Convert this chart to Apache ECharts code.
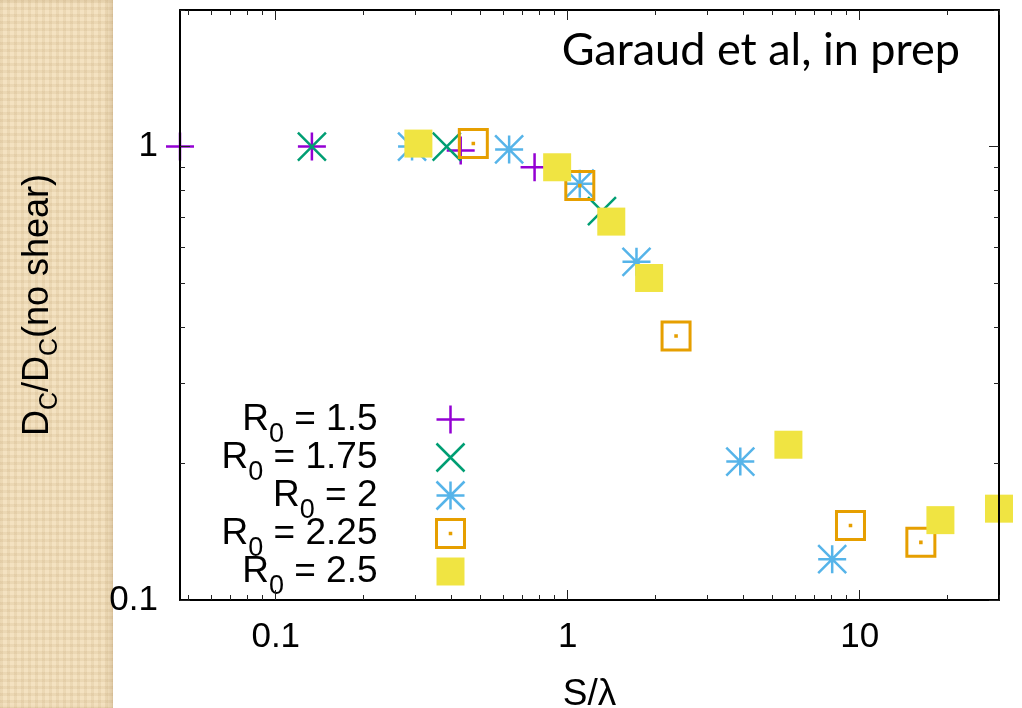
<!DOCTYPE html>
<html>
<head>
<meta charset="utf-8">
<script src="https://cdn.jsdelivr.net/npm/echarts@6/dist/echarts.min.js"></script>
<style>
html, body { margin: 0; padding: 0; background: #fff; }
#strip {
  position: absolute; left: 0; top: 0; width: 113px; height: 708px;
  background-color: #f4e2c1;
  background-image: linear-gradient(90deg, rgba(190,160,110,0.16) 50%, transparent 50%),
                    linear-gradient(rgba(190,160,110,0.16) 50%, transparent 50%);
  background-size: 7px 7px;
  box-shadow: inset -4px 0 4px rgba(170,140,90,0.25);
}
#main { position: absolute; left: 0; top: 0; width: 1022px; height: 708px; }
</style>
</head>
<body>
<div id="strip"></div>
<div id="main"></div>
<script>
var chart = echarts.init(document.getElementById('main'));

// data (x = S/lambda, y = Dc/Dc(no shear))
var r15X = [0.047, 0.133, 0.43, 0.77];
var r15Y = [1.0, 1.0, 0.98, 0.90];
var r175X = [0.133, 0.385, 1.31];
var r175Y = [1.0, 1.0, 0.72];
var r2X = [0.293, 0.63, 1.10, 1.72, 3.9, 8.05];
var r2Y = [1.0, 0.985, 0.828, 0.557, 0.202, 0.123];
var r225X = [0.475, 1.10, 2.35, 9.3, 16.2];
var r225Y = [1.015, 0.82, 0.382, 0.146, 0.134];
var r25X = [0.308, 0.92, 1.41, 1.90, 5.7, 18.9, 30];
var r25Y = [1.015, 0.90, 0.683, 0.513, 0.22, 0.15, 0.159];

var r0Values = ['1.5', '1.75', '2', '2.25', '2.5'];

// ticks
var xMajor = [0.1, 1, 10];
var xMinor = [0.05, 0.06, 0.07, 0.08, 0.09, 0.2, 0.3, 0.4, 0.5, 0.6, 0.7, 0.8, 0.9,
              2, 3, 4, 5, 6, 7, 8, 9, 20, 30];
var yMajor = [0.1, 1];
var yMinor = [0.2, 0.3, 0.4, 0.5, 0.6, 0.7, 0.8, 0.9, 2];
var xLabels = [0.1, 1, 10];
var yLabels = [0.1, 1];

var xMin = 0.047, xMax = 30, yMin = 0.1, yMax = 2;

var colors = ['#9400d3', '#009e73', '#56b4e9', '#e69f00', '#f0e442'];
var plusPath = 'path://M0,5L10,5M5,0L5,10';
var crossPath = 'path://M0,0L10,10M10,0L0,10';
var starPath = 'path://M0,5L10,5M5,0L5,10M0,0L10,10M10,0L0,10';
var boxPath = 'path://M0,0L10,0L10,10L0,10ZM4.9,4.9L5.1,4.9L5.1,5.1L4.9,5.1Z';

var font = "'Liberation Sans', Arial, sans-serif";

function pts(xs, ys) {
  return xs.map(function (x, i) { return [x, ys[i]]; });
}

function xAx(pos, ticks, len, main) {
  return {
    type: 'log', logBase: 10, position: pos, min: xMin, max: xMax, z: 5,
    axisLine: { show: main, onZero: false, lineStyle: { color: '#000', width: 2 } },
    axisTick: { show: true, inside: true, length: len, customValues: ticks,
                lineStyle: { color: '#222', width: 1 } },
    axisLabel: { show: main && pos === 'bottom', customValues: xLabels, margin: 20,
                 color: '#000', fontSize: 35, fontFamily: font },
    splitLine: { show: false }
  };
}

function yAx(pos, ticks, len, main) {
  return {
    type: 'log', logBase: 10, position: pos, min: yMin, max: yMax, z: 5,
    axisLine: { show: main, onZero: false, lineStyle: { color: '#000', width: 2 } },
    axisTick: { show: true, inside: true, length: len, customValues: ticks,
                lineStyle: { color: '#222', width: 1 } },
    axisLabel: { show: main && pos === 'left', customValues: yLabels, margin: 22,
                 color: '#000', fontSize: 35, fontFamily: font },
    splitLine: { show: false }
  };
}

var xAxes = [xAx('bottom', xMajor, 10, true), xAx('bottom', xMinor, 5, false),
             xAx('top', xMajor, 10, true), xAx('top', xMinor, 5, false)];
xAxes[0].name = 'S/\u03bb';
xAxes[0].nameLocation = 'middle';
xAxes[0].nameGap = 76;
xAxes[0].nameTextStyle = { color: '#000', fontSize: 37, fontFamily: font };

var yAxes = [yAx('left', yMajor, 10, true), yAx('left', yMinor, 5, false),
             yAx('right', yMajor, 10, true), yAx('right', yMinor, 5, false)];
yAxes[0].name = '{n|D}{s|C}{n|/D}{s|C}{n|(no shear)}';
yAxes[0].nameLocation = 'middle';
yAxes[0].nameRotate = 90;
yAxes[0].nameGap = 124;
yAxes[0].nameTextStyle = {
  color: '#000', fontFamily: font,
  rich: {
    n: { fontSize: 36, lineHeight: 36, verticalAlign: 'top', fontFamily: font, color: '#000' },
    s: { fontSize: 25, lineHeight: 25, verticalAlign: 'top', padding: [18, 0, 0, 0],
         fontFamily: font, color: '#000' }
  }
};

var symbols = [plusPath, crossPath, starPath, boxPath, 'rect'];
var xsList = [r15X, r175X, r2X, r225X, r25X];
var ysList = [r15Y, r175Y, r2Y, r225Y, r25Y];

var series = r0Values.map(function (v, i) {
  var filled = i === 4;
  return {
    name: 'R0 = ' + v,
    type: 'scatter',
    xAxisIndex: 0, yAxisIndex: 0,
    symbol: symbols[i],
    symbolSize: 28,
    clip: false,
    itemStyle: filled ? { color: colors[i], opacity: 1 } :
      { color: 'rgba(0,0,0,0)', borderColor: colors[i], borderWidth: i === 3 ? 3 : 2.5, opacity: 1 },
    emphasis: { disabled: true },
    data: pts(xsList[i], ysList[i])
  };
});

var option = {
  backgroundColor: 'transparent',
  animation: false,
  title: {
    text: 'Garaud et al, in prep',
    right: 57, top: 23,
    textStyle: { fontFamily: 'Lato, sans-serif', fontSize: 45, fontWeight: 'normal', color: '#000' }
  },
  grid: { left: 180, right: 23, top: 10, bottom: 108, containLabel: false, outerBoundsMode: 'none' },
  legend: {
    orient: 'vertical',
    align: 'right',
    right: 556, top: 401,
    padding: 0,
    itemGap: -9,
    itemWidth: 28, itemHeight: 28,
    selectedMode: false,
    data: r0Values.map(function (v, i) {
      return { name: 'R0 = ' + v, itemStyle: { borderWidth: i === 4 ? 0 : (i === 3 ? 3 : 2.5) } };
    }),
    formatter: function (name) {
      return '{n|R}{s|0}{n| = ' + name.slice(5) + '}';
    },
    textStyle: {
      padding: [0, 54, 0, 0],
      rich: {
        n: { fontSize: 37, lineHeight: 37, verticalAlign: 'top', fontFamily: font, color: '#000' },
        s: { fontSize: 27, lineHeight: 26, verticalAlign: 'top', padding: [20, 0, 0, 0],
             fontFamily: font, color: '#000' }
      }
    }
  },
  xAxis: xAxes,
  yAxis: yAxes,
  series: series
};

chart.setOption(option);
</script>
</body>
</html>
